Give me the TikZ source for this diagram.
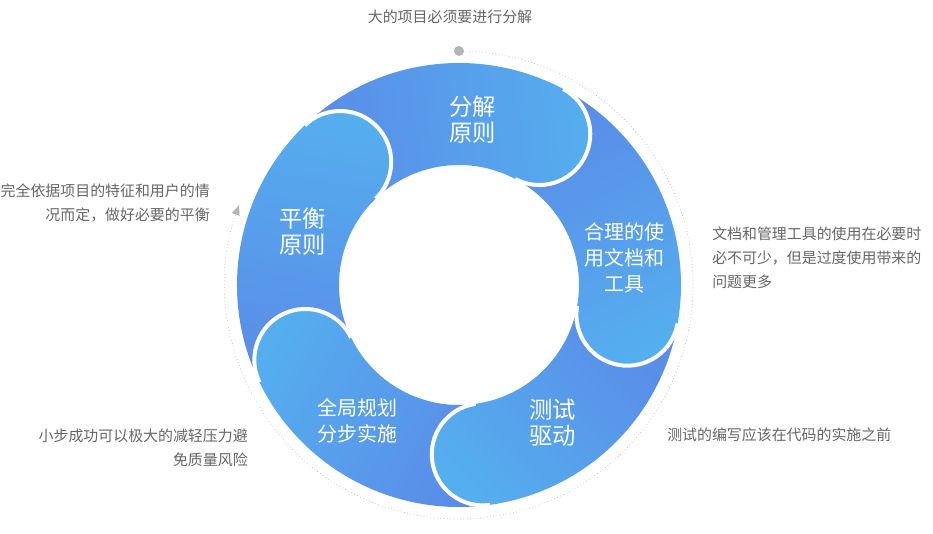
\documentclass[tikz,border=0pt]{standalone}
\usepackage{fontspec}
\setmainfont{Noto Sans CJK SC}
\usepackage{tikz}
\usetikzlibrary{arrows.meta}
\definecolor{ringdark}{RGB}{90,140,232}
\definecolor{ringlight}{RGB}{85,174,238}
\definecolor{notegray}{RGB}{102,102,102}
\definecolor{guidegray}{RGB}{180,180,180}
\tikzset{
	ringpart/.style={top color=ringlight,bottom color=ringdark,shading angle=#1},
	headline/.style={draw=white,line width=3pt},
	guide/.style={draw=guidegray,dotted,line width=0.5pt},
	note/.style={inner sep=0pt,text=notegray,font=\fontsize{11.2}{18}\selectfont},
	bigtext/.style={inner sep=0pt,text=white,align=center,font=\fontsize{17.5}{19.5}\selectfont},
	smalltext/.style={inner sep=0pt,text=white,align=center,font=\fontsize{15}{19.5}\selectfont}
}
\newcommand{\ringpart}[2]{
	\path [ringpart=#2] (#1+72:222) arc [start angle=#1+72, end angle=#1, radius=222]
		arc [start angle=#1, end angle=#1-180, radius=51]
		arc [start angle=#1, end angle=#1+72, radius=120] -- cycle
}

\begin{document}
\begin{tikzpicture}[x=0.75pt,y=0.75pt]
	\useasboundingbox (-459,-248) rectangle (474,285);

	% Ring parts, each head covers the tail of the next one
	\foreach \a [evaluate=\a as \s using \a-144] in {134,-154,-82,-10,62}
		\ringpart{\a}{\s};
	\begin{scope}
		\clip (134:171) circle [radius=51];
		\ringpart{134}{-10};
	\end{scope}
	\foreach \a in {134,-154,-82,-10,62}
		\draw [headline] (\a:222) arc [start angle=\a, end angle=\a-180, radius=51];

	% Dotted guide round the ring
	\coordinate (start) at (90:234);
	\draw [guide,-{Triangle[length=7.5pt,width=6pt]}] (start) arc [start angle=90, end angle=-200, radius=234];
	\fill [guidegray] (start) circle [radius=5];

	% Texts in the ring
	\node [bigtext] (fenjie) at (14,165) {分解\\原则};
	\node [smalltext] (heli) at (166,27) {合理的使\\用文档和\\工具};
	\node [bigtext] (ceshi) at (94,-137.5) {测试\\驱动};
	\node [smalltext] (quanju) at (-101.5,-135.5) {全局规划\\分步实施};
	\node [bigtext] (pingheng) at (-156,53.5) {平衡\\原则};

	% Notes round the ring
	\node [note] (topnote) at (-9,268) {大的项目必须要进行分解};
	\node [note,anchor=west,align=left] (rightnote) at (253,27) {文档和管理工具的使用在必要时\\必不可少，但是过度使用带来的\\问题更多};
	\node [note,anchor=west] (testnote) at (208,-150) {测试的编写应该在代码的实施之前};
	\node [note,anchor=east,align=right] (stepnote) at (-211,-162.5) {小步成功可以极大的减轻压力避\\免质量风险};
	\node [note,anchor=east,align=right] (balancenote) at (-249,82) {完全依据项目的特征和用户的情\\况而定，做好必要的平衡};
\end{tikzpicture}
\end{document}
